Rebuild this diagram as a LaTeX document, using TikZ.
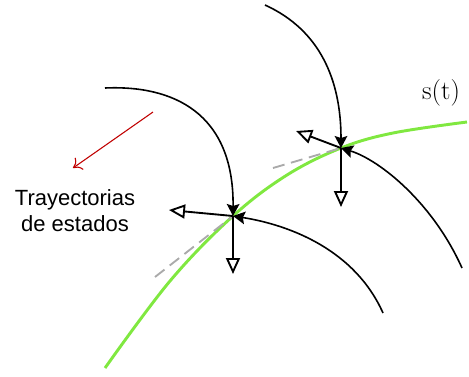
\documentclass[tikz,border=0pt]{standalone}
\usepackage{fontspec}
\usepackage{tikz}
\usetikzlibrary{arrows.meta,positioning,calc}
\newfontfamily\labelfont{Liberation Sans}
\definecolor{Lime}{RGB}{128,232,64}
\definecolor{DarkRed}{RGB}{192,0,0}
\definecolor{Tangent}{RGB}{170,170,170}

\begin{document}
\begin{tikzpicture}[
  x=0.75pt, y=-0.75pt,
  traj/.style={line width=1.2pt, -{Stealth[length=9pt, width=9.5pt, inset=1.5pt]}},
  grad/.style={line width=1.4pt, -{Triangle[open, length=12pt, width=10.5pt]}},
  tangent/.style={draw=Tangent, line width=1.4pt, dash pattern=on 9pt off 5pt},
  surface/.style={draw=Lime, line width=2.2pt},
  pointer/.style={draw=DarkRed, line width=0.8pt, -{To[length=6pt, width=11pt]}}
]
\useasboundingbox (0,0) rectangle (469,376);

% puntos sobre s(t)
\coordinate (A) at (233,216);
\coordinate (B) at (341,148);

% curva de conmutacion
\draw[surface] plot[smooth, tension=0.6] coordinates {(105,368) (170,281) (A) (287,175) (B) (393,133) (467,122)};

% tangentes
\coordinate (tA) at (155,277);
\coordinate (tB) at (273,168);
\draw[tangent] (tA) -- (A);
\draw[tangent] (tB) -- (B);

% trayectorias
\coordinate (a1) at (105,88);
\coordinate (a2) at (383,313);
\coordinate (b1) at (265,5);
\coordinate (b2) at (462,268);
\draw[traj] (a1) .. controls (172,85) and (234,112) .. (A);
\draw[traj] (a2) .. controls (355,250) and (290,225) .. (A);
\draw[traj] (b1) .. controls (320,30) and (341,80) .. (B);
\draw[traj] (b2) .. controls (433,203) and (380,160) .. (B);

% vectores
\coordinate (Aleft) at (169,210);
\coordinate (Adown) at (233,274);
\coordinate (Bleft) at (296,131);
\coordinate (Bdown) at (341,207);
\draw[grad] (A) -- (Aleft);
\draw[grad] (A) -- (Adown);
\draw[grad] (B) -- (Bleft);
\draw[grad] (B) -- (Bdown);

% etiquetas
\node[font=\labelfont\fontsize{16.5}{19.5}\selectfont, align=center] (lbl) at (75,211) {Trayectorias\\de estados};
\node[font=\fontsize{20}{24}\selectfont] (st) at (441,93) {s(t)};
\coordinate (rtail) at (153,112);
\coordinate (rhead) at (73,168);
\draw[pointer] (rtail) -- (rhead);
\end{tikzpicture}
\end{document}
